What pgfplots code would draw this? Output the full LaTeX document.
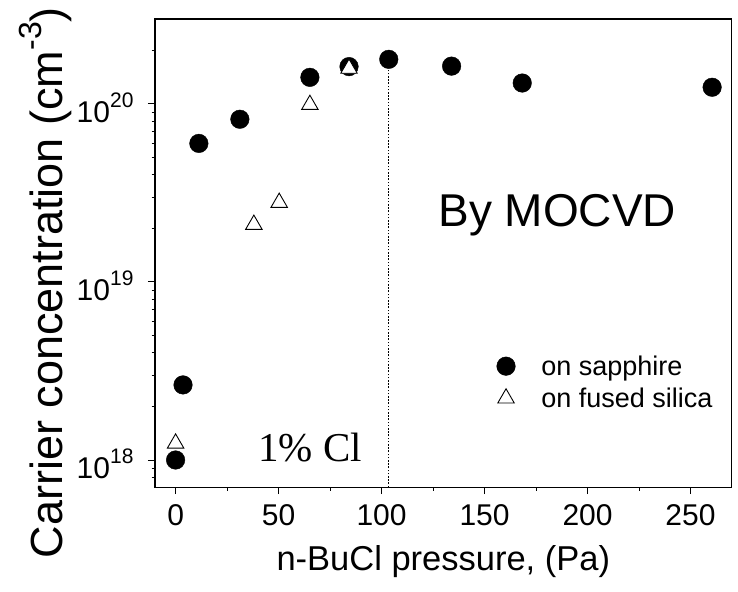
\documentclass[border=0pt]{standalone}
\usepackage{fontspec}
\setmainfont{Liberation Sans}
\newfontfamily\seriffont{Liberation Serif}
\usepackage{pgfplots}
\pgfplotsset{compat=1.18}
\newcommand{\tsup}[1]{\raisebox{15pt}{\fontsize{21}{24}\selectfont #1}}
\newcommand{\lsup}[1]{\raisebox{21pt}{\fontsize{32}{36}\selectfont #1}}

\begin{document}
\begin{tikzpicture}
\useasboundingbox (0,0) rectangle (738pt,591pt);
\begin{axis}[
  at={(155pt,103.7pt)}, anchor=south west,
  scale only axis, width=576.7pt, height=468.3pt,
  xmin=-10, xmax=270,
  ymode=log, ymin=7.03e17, ymax=3e20,
  axis line style={line width=1.1pt},
  tick pos=left, tick align=outside,
  major tick length=7pt, minor tick length=3.5pt,
  every tick/.style={black, line width=1pt},
  xtick={0,50,100,150,200,250},
  xticklabels={0,50,100,150,200,250},
  minor xtick={25,75,125,175,225},
  ytick={1e18,1e19,1e20},
  yticklabels={10\tsup{18},10\tsup{19},10\tsup{20}},
  minor ytick={8e17,9e17,2e18,3e18,4e18,5e18,6e18,7e18,8e18,9e18,2e19,3e19,4e19,5e19,6e19,7e19,8e19,9e19,2e20},
  ticklabel style={font=\fontsize{30}{34}\selectfont},
  xticklabel style={yshift=-7pt},
  yticklabel style={xshift=-11pt, yshift=-4pt},
  xlabel={n-BuCl pressure, (Pa)},
  xlabel style={font=\fontsize{34.5}{40}\selectfont, at={(axis description cs:0.5,-0.178)}, anchor=base},
  ylabel={Carrier concentration (cm\lsup{-3})},
  ylabel style={font=\fontsize{45}{52}\selectfont, at={(axis description cs:-0.16,0.437)}, anchor=base},
  legend style={draw=none, fill=none, font=\fontsize{27}{31}\selectfont,
    at={(rel axis cs:0.587,0.29)}, anchor=north west, row sep=7pt,
    nodes={inner sep=2pt}},
  legend cell align=left,
  legend image code/.code={\draw[#1] plot coordinates {(0pt,0pt)};},
]
\addplot[only marks, mark=*, mark size=9.3pt, black] coordinates {
  (0,1.0e18) (3.6,2.64e18) (11.3,6.0e19) (31.2,8.2e19) (65.2,1.41e20)
  (84.2,1.62e20) (103.5,1.78e20) (134,1.63e20) (168.3,1.31e20) (260.5,1.24e20)
};
\addlegendentry{\hspace{24pt}on sapphire}
\addplot[only marks, mark=triangle*, mark size=9.5pt, mark options={fill=white, draw=black, line width=0.9pt}] coordinates {
  (0,1.24e18) (38,2.10e19) (50.3,2.79e19) (65.2,0.99e20) (84.2,1.58e20)
};
\addlegendentry{\hspace{24pt}on fused silica}
\addplot[line width=1.2pt, black, dash pattern=on 1.6pt off 1.6pt, forget plot] coordinates {(103.5,7.03e17) (103.5,1.78e20)};
\node[anchor=base west, inner sep=0pt, font=\fontsize{46}{52}\selectfont] at (rel axis cs:0.491,0.5565) {By MOCVD};
\node[anchor=base west, inner sep=0pt, font=\seriffont\fontsize{41}{46}\selectfont] at (rel axis cs:0.179,0.0547) {1\% Cl};
\end{axis}
\end{tikzpicture}
\end{document}
